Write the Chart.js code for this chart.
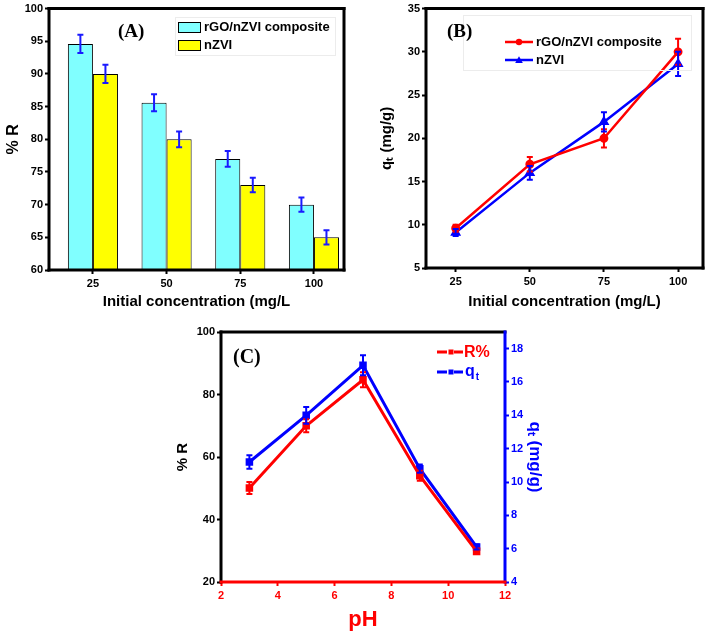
<!DOCTYPE html>
<html><head><meta charset="utf-8">
<script src="https://cdn.jsdelivr.net/npm/chart.js@4.4.0/dist/chart.umd.min.js"></script>
<style>
html,body{margin:0;padding:0;background:#fff;width:710px;height:633px;overflow:hidden;}
canvas{position:absolute;display:block;}
#ca{left:0;top:0;}
#cb{left:365px;top:0;}
#cc{left:170px;top:315px;}
</style></head><body>
<canvas id="ca" width="352" height="315"></canvas>
<canvas id="cb" width="345" height="315"></canvas>
<canvas id="cc" width="385" height="318"></canvas>
<script>
// ---------- DATA ----------
// Panel A: % removal vs initial concentration (bars)
const concA = [25, 50, 75, 100];
const removalComposite = [94.6, 85.6, 77.0, 70.0];
const removalCompositeErr = [1.4, 1.3, 1.2, 1.1];
const removalNzvi = [90.0, 80.0, 73.0, 65.0];
const removalNzviErr = [1.4, 1.2, 1.1, 1.1];
const ticksAX = [25, 50, 75, 100];
const ticksAY = [60, 65, 70, 75, 80, 85, 90, 95, 100];

// Panel B: q_t vs initial concentration (lines)
const concB = [25, 50, 75, 100];
const qComposite = [9.6, 17.0, 20.0, 30.0];
const qCompositeErr = [0.4, 0.85, 1.05, 1.5];
const qNzvi = [9.1, 16.0, 21.9, 28.6];
const qNzviErr = [0.4, 0.8, 1.1, 1.4];
const ticksBX = [25, 50, 75, 100];
const ticksBY = [5, 10, 15, 20, 25, 30, 35];

// Panel C: effect of pH
const pH = [3, 5, 7, 9, 11];
const removalPH = [50.1, 70.0, 84.7, 54.0, 29.8];
const removalPHErr = [1.9, 2.1, 2.4, 1.6, 0.8];
const qPH = [11.2, 14.0, 17.0, 10.8, 6.1];
const qPHErr = [0.4, 0.5, 0.6, 0.25, 0.15];
const ticksCX = [2, 4, 6, 8, 10, 12];
const ticksCL = [20, 40, 60, 80, 100];
const ticksCR = [4, 6, 8, 10, 12, 14, 16, 18];

// ---------- HELPERS ----------
Chart.defaults.font.family = "'Liberation Sans', Arial, sans-serif";
Chart.defaults.font.weight = 'bold';
Chart.defaults.color = '#000';
const RED = '#ff0000', BLUE = '#0000ff', EBLUE = '#1a1aff';

const errorBarPlugin = {
  id: 'errbars',
  afterDatasetsDraw(chart) {
    const ctx = chart.ctx;
    chart.data.datasets.forEach((ds, i) => {
      if (!ds.errors) return;
      const meta = chart.getDatasetMeta(i);
      const ys = chart.scales[meta.yAxisID];
      ctx.save();
      ctx.strokeStyle = ds.errorColor;
      ctx.lineWidth = ds.errorWidth || 2;
      meta.data.forEach((el, j) => {
        const v = ds.data[j];
        const val = (typeof v === 'object') ? v.y : v;
        const e = ds.errors[j];
        const x = el.x;
        const y1 = ys.getPixelForValue(val + e), y2 = ys.getPixelForValue(val - e);
        const c = ds.capHalf || 3;
        ctx.beginPath();
        ctx.moveTo(x, y1); ctx.lineTo(x, y2);
        ctx.moveTo(x - c, y1); ctx.lineTo(x + c, y1);
        ctx.moveTo(x - c, y2); ctx.lineTo(x + c, y2);
        ctx.stroke();
      });
      ctx.restore();
    });
  }
};

const framePlugin = {
  id: 'frame',
  afterDatasetsDraw(chart, args, opts) {
    const {ctx, chartArea: a} = chart;
    const w = opts.width || 3, h = w / 2;
    ctx.save();
    ctx.lineWidth = w;
    ctx.lineCap = 'butt';
    const seg = (c, x1, y1, x2, y2) => { ctx.strokeStyle = c; ctx.beginPath(); ctx.moveTo(x1, y1); ctx.lineTo(x2, y2); ctx.stroke(); };
    seg(opts.top, a.left - h, a.top, a.right + h, a.top);
    seg(opts.left, a.left, a.top - h, a.left, a.bottom + h);
    seg(opts.right, a.right, a.top - h, a.right, a.bottom + h);
    seg(opts.bottom, a.left - h, a.bottom, a.right + h, a.bottom);
    ctx.restore();
  }
};

const decorPlugin = {
  id: 'decor',
  afterDraw(chart, args, opts) { if (opts.draw) opts.draw(chart, chart.ctx); }
};

function fixedTicks(list) {
  return (scale) => { scale.ticks = list.map(v => ({value: v})); };
}
function gridOpts(color) {
  return {display: true, drawOnChartArea: false, drawTicks: true, tickLength: 4, tickWidth: 2, tickColor: color, offset: false};
}

// ---------- PANEL A ----------
new Chart(document.getElementById('ca'), {
  type: 'bar',
  data: {
    datasets: [
      {label: 'rGO/nZVI composite', data: concA.map((c, i) => ({x: c, y: removalComposite[i]})), errors: removalCompositeErr,
       backgroundColor: '#80ffff', borderColor: '#000', borderWidth: 1, errorColor: EBLUE, errorWidth: 2, capHalf: 3},
      {label: 'nZVI', data: concA.map((c, i) => ({x: c, y: removalNzvi[i]})), errors: removalNzviErr,
       backgroundColor: '#ffff00', borderColor: '#000', borderWidth: 1, errorColor: EBLUE, errorWidth: 2, capHalf: 3}
    ]
  },
  options: {
    responsive: false, animation: false,
    barPercentage: 1.0, categoryPercentage: 0.68,
    layout: {padding: {top: 7, right: 8, left: 0, bottom: 0}},
    scales: {
      x: {
        type: 'linear', min: 10.1, max: 110.2, offset: false,
        afterBuildTicks: fixedTicks(ticksAX),
        grid: gridOpts('#000'), border: {display: false},
        ticks: {font: {size: 11, weight: 'bold'}, color: '#000', padding: 3},
        title: {display: true, text: 'Initial concentration (mg/L', font: {size: 15, weight: 'bold'}, color: '#000', padding: {top: 4, bottom: 4}},
        afterFit: (s) => { s.height = 45; }
      },
      y: {
        min: 60, max: 100,
        afterBuildTicks: fixedTicks(ticksAY),
        grid: gridOpts('#000'), border: {display: false},
        ticks: {font: {size: 11, weight: 'bold'}, color: '#000', padding: 2},
        title: {display: true, text: '% R', font: {size: 16, weight: 'bold'}, color: '#000', padding: {top: 4, bottom: 4}},
        afterFit: (s) => { s.width = 49; }
      }
    },
    plugins: {
      legend: {display: false}, tooltip: {enabled: false},
      frame: {top: '#000', left: '#000', right: '#000', bottom: '#000', width: 3},
      decor: {draw: (chart, ctx) => {
        ctx.save();
        ctx.strokeStyle = '#ececec'; ctx.lineWidth = 1;
        ctx.strokeRect(175.5, 17.5, 160, 38);
        ctx.font = "bold 19px 'Liberation Serif', 'Times New Roman', serif";
        ctx.fillStyle = '#000'; ctx.textBaseline = 'middle'; ctx.textAlign = 'left';
        ctx.fillText('(A)', 118, 32);
        const ds = chart.data.datasets;
        ctx.font = "bold 13px 'Liberation Sans', Arial, sans-serif";
        [[22, 0], [40, 1]].forEach(([y, k]) => {
          ctx.fillStyle = ds[k].backgroundColor; ctx.fillRect(178, y, 22, 10);
          ctx.strokeStyle = '#000'; ctx.lineWidth = 1; ctx.strokeRect(178.5, y + 0.5, 22, 10);
          ctx.fillStyle = '#000'; ctx.fillText(ds[k].label, 204, y + 5.5);
        });
        ctx.restore();
      }}
    }
  },
  plugins: [framePlugin, errorBarPlugin, decorPlugin]
});

// ---------- PANEL B ----------
function drawTriangle(ctx, x, y, r) {
  ctx.beginPath(); ctx.moveTo(x, y - r); ctx.lineTo(x + r, y + r * 0.8); ctx.lineTo(x - r, y + r * 0.8); ctx.closePath(); ctx.fill();
}
new Chart(document.getElementById('cb'), {
  type: 'line',
  data: {
    datasets: [
      {label: 'rGO/nZVI composite', data: concB.map((c, i) => ({x: c, y: qComposite[i]})), errors: qCompositeErr,
       borderColor: RED, backgroundColor: RED, borderWidth: 2.5, pointStyle: 'circle', pointRadius: 3.2,
       errorColor: RED, errorWidth: 2, capHalf: 3},
      {label: 'nZVI', data: concB.map((c, i) => ({x: c, y: qNzvi[i]})), errors: qNzviErr,
       borderColor: BLUE, backgroundColor: BLUE, borderWidth: 2.5, pointStyle: 'triangle', pointRadius: 3.8,
       errorColor: BLUE, errorWidth: 2, capHalf: 3}
    ]
  },
  options: {
    responsive: false, animation: false,
    layout: {padding: {top: 7, right: 7, left: 0, bottom: 0}},
    scales: {
      x: {
        type: 'linear', min: 15, max: 108.4,
        afterBuildTicks: fixedTicks(ticksBX),
        grid: gridOpts('#000'), border: {display: false},
        ticks: {font: {size: 11, weight: 'bold'}, color: '#000', padding: 3},
        title: {display: true, text: 'Initial concentration (mg/L)', font: {size: 15, weight: 'bold'}, color: '#000', padding: {top: 4, bottom: 4}},
        afterFit: (s) => { s.height = 47; }
      },
      y: {
        min: 5, max: 35,
        afterBuildTicks: fixedTicks(ticksBY),
        grid: gridOpts('#000'), border: {display: false},
        ticks: {font: {size: 11, weight: 'bold'}, color: '#000', padding: 2},
        title: {display: true, text: 'qₜ (mg/g)', font: {size: 15, weight: 'bold'}, color: '#000', padding: {top: 13, bottom: 4}},
        afterFit: (s) => { s.width = 61; }
      }
    },
    plugins: {
      legend: {display: false}, tooltip: {enabled: false},
      frame: {top: '#000', left: '#000', right: '#000', bottom: '#000', width: 3},
      decor: {draw: (chart, ctx) => {
        ctx.save();
        ctx.strokeStyle = '#ececec'; ctx.lineWidth = 1;
        ctx.strokeRect(98.5, 15.5, 228, 55);
        ctx.font = "bold 19px 'Liberation Serif', 'Times New Roman', serif";
        ctx.fillStyle = '#000'; ctx.textBaseline = 'middle'; ctx.textAlign = 'left';
        ctx.fillText('(B)', 82, 32);
        const ds = chart.data.datasets;
        ctx.font = "bold 13px 'Liberation Sans', Arial, sans-serif";
        [[42, 0], [60, 1]].forEach(([y, k]) => {
          ctx.strokeStyle = ds[k].borderColor; ctx.lineWidth = 2.5;
          ctx.beginPath(); ctx.moveTo(140, y); ctx.lineTo(168, y); ctx.stroke();
          ctx.fillStyle = ds[k].borderColor;
          if (k === 0) { ctx.beginPath(); ctx.arc(154, y, 3.2, 0, Math.PI * 2); ctx.fill(); }
          else drawTriangle(ctx, 154, y, 3.8);
          ctx.fillStyle = '#000'; ctx.fillText(ds[k].label, 171, y + 0.5);
        });
        ctx.restore();
      }}
    }
  },
  plugins: [framePlugin, errorBarPlugin, decorPlugin]
});

// ---------- PANEL C ----------
new Chart(document.getElementById('cc'), {
  type: 'line',
  data: {
    datasets: [
      {label: 'R%', yAxisID: 'y', data: pH.map((p, i) => ({x: p, y: removalPH[i]})), errors: removalPHErr,
       borderColor: RED, backgroundColor: RED, borderWidth: 3, pointStyle: 'rect', pointRadius: 3.2,
       errorColor: RED, errorWidth: 2, capHalf: 3},
      {label: 'qt', yAxisID: 'y2', data: pH.map((p, i) => ({x: p, y: qPH[i]})), errors: qPHErr,
       borderColor: BLUE, backgroundColor: BLUE, borderWidth: 3, pointStyle: 'rect', pointRadius: 3.2,
       errorColor: BLUE, errorWidth: 2, capHalf: 3}
    ]
  },
  options: {
    responsive: false, animation: false,
    layout: {padding: {top: 17, right: 0, left: 0, bottom: 0}},
    scales: {
      x: {
        type: 'linear', min: 2, max: 12,
        afterBuildTicks: fixedTicks(ticksCX),
        grid: gridOpts(RED), border: {display: false},
        ticks: {font: {size: 11, weight: 'bold'}, color: RED, padding: 3},
        title: {display: true, text: 'pH', font: {size: 22, weight: 'bold'}, color: RED, padding: {top: 4, bottom: 0}},
        afterFit: (s) => { s.height = 51; }
      },
      y: {
        position: 'left', min: 20, max: 100,
        afterBuildTicks: fixedTicks(ticksCL),
        grid: gridOpts('#000'), border: {display: false},
        ticks: {font: {size: 11, weight: 'bold'}, color: '#000', padding: 2},
        title: {display: true, text: '% R', font: {size: 15, weight: 'bold'}, color: '#000', padding: {top: 4, bottom: 4}},
        afterFit: (s) => { s.width = 51; }
      },
      y2: {
        position: 'right', min: 4, max: 19,
        afterBuildTicks: fixedTicks(ticksCR),
        grid: gridOpts(BLUE), border: {display: false},
        ticks: {font: {size: 11, weight: 'bold'}, color: BLUE, padding: 2},
        title: {display: true, text: 'qₜ (mg/g)', font: {size: 17, weight: 'bold'}, color: BLUE, padding: {top: 10, bottom: 4}},
        afterFit: (s) => { s.width = 50; }
      }
    },
    plugins: {
      legend: {display: false}, tooltip: {enabled: false},
      frame: {top: '#000', left: '#000', right: BLUE, bottom: RED, width: 3},
      decor: {draw: (chart, ctx) => {
        ctx.save();
        ctx.font = "bold 20px 'Liberation Serif', 'Times New Roman', serif";
        ctx.fillStyle = '#000'; ctx.textBaseline = 'middle'; ctx.textAlign = 'left';
        ctx.fillText('(C)', 63, 43);
        const ds = chart.data.datasets;
        ctx.font = "bold 16px 'Liberation Sans', Arial, sans-serif";
        [[37, 0], [57, 1]].forEach(([y, k]) => {
          const c = ds[k].borderColor;
          ctx.strokeStyle = c; ctx.fillStyle = c; ctx.lineWidth = 3;
          ctx.beginPath(); ctx.moveTo(267, y); ctx.lineTo(277, y); ctx.moveTo(284, y); ctx.lineTo(293, y); ctx.stroke();
          ctx.fillRect(278.5, y - 2.5, 5, 5);
          if (k === 0) {
            ctx.fillText(ds[k].label, 294, y + 1);
          } else {
            ctx.fillText('q', 295, y);
            const w = ctx.measureText('q').width;
            ctx.font = "bold 10px 'Liberation Sans', Arial, sans-serif";
            ctx.fillText('t', 295 + w + 1, y + 5);
          }
        });
        ctx.restore();
      }}
    }
  },
  plugins: [framePlugin, errorBarPlugin, decorPlugin]
});
</script>
</body></html>
